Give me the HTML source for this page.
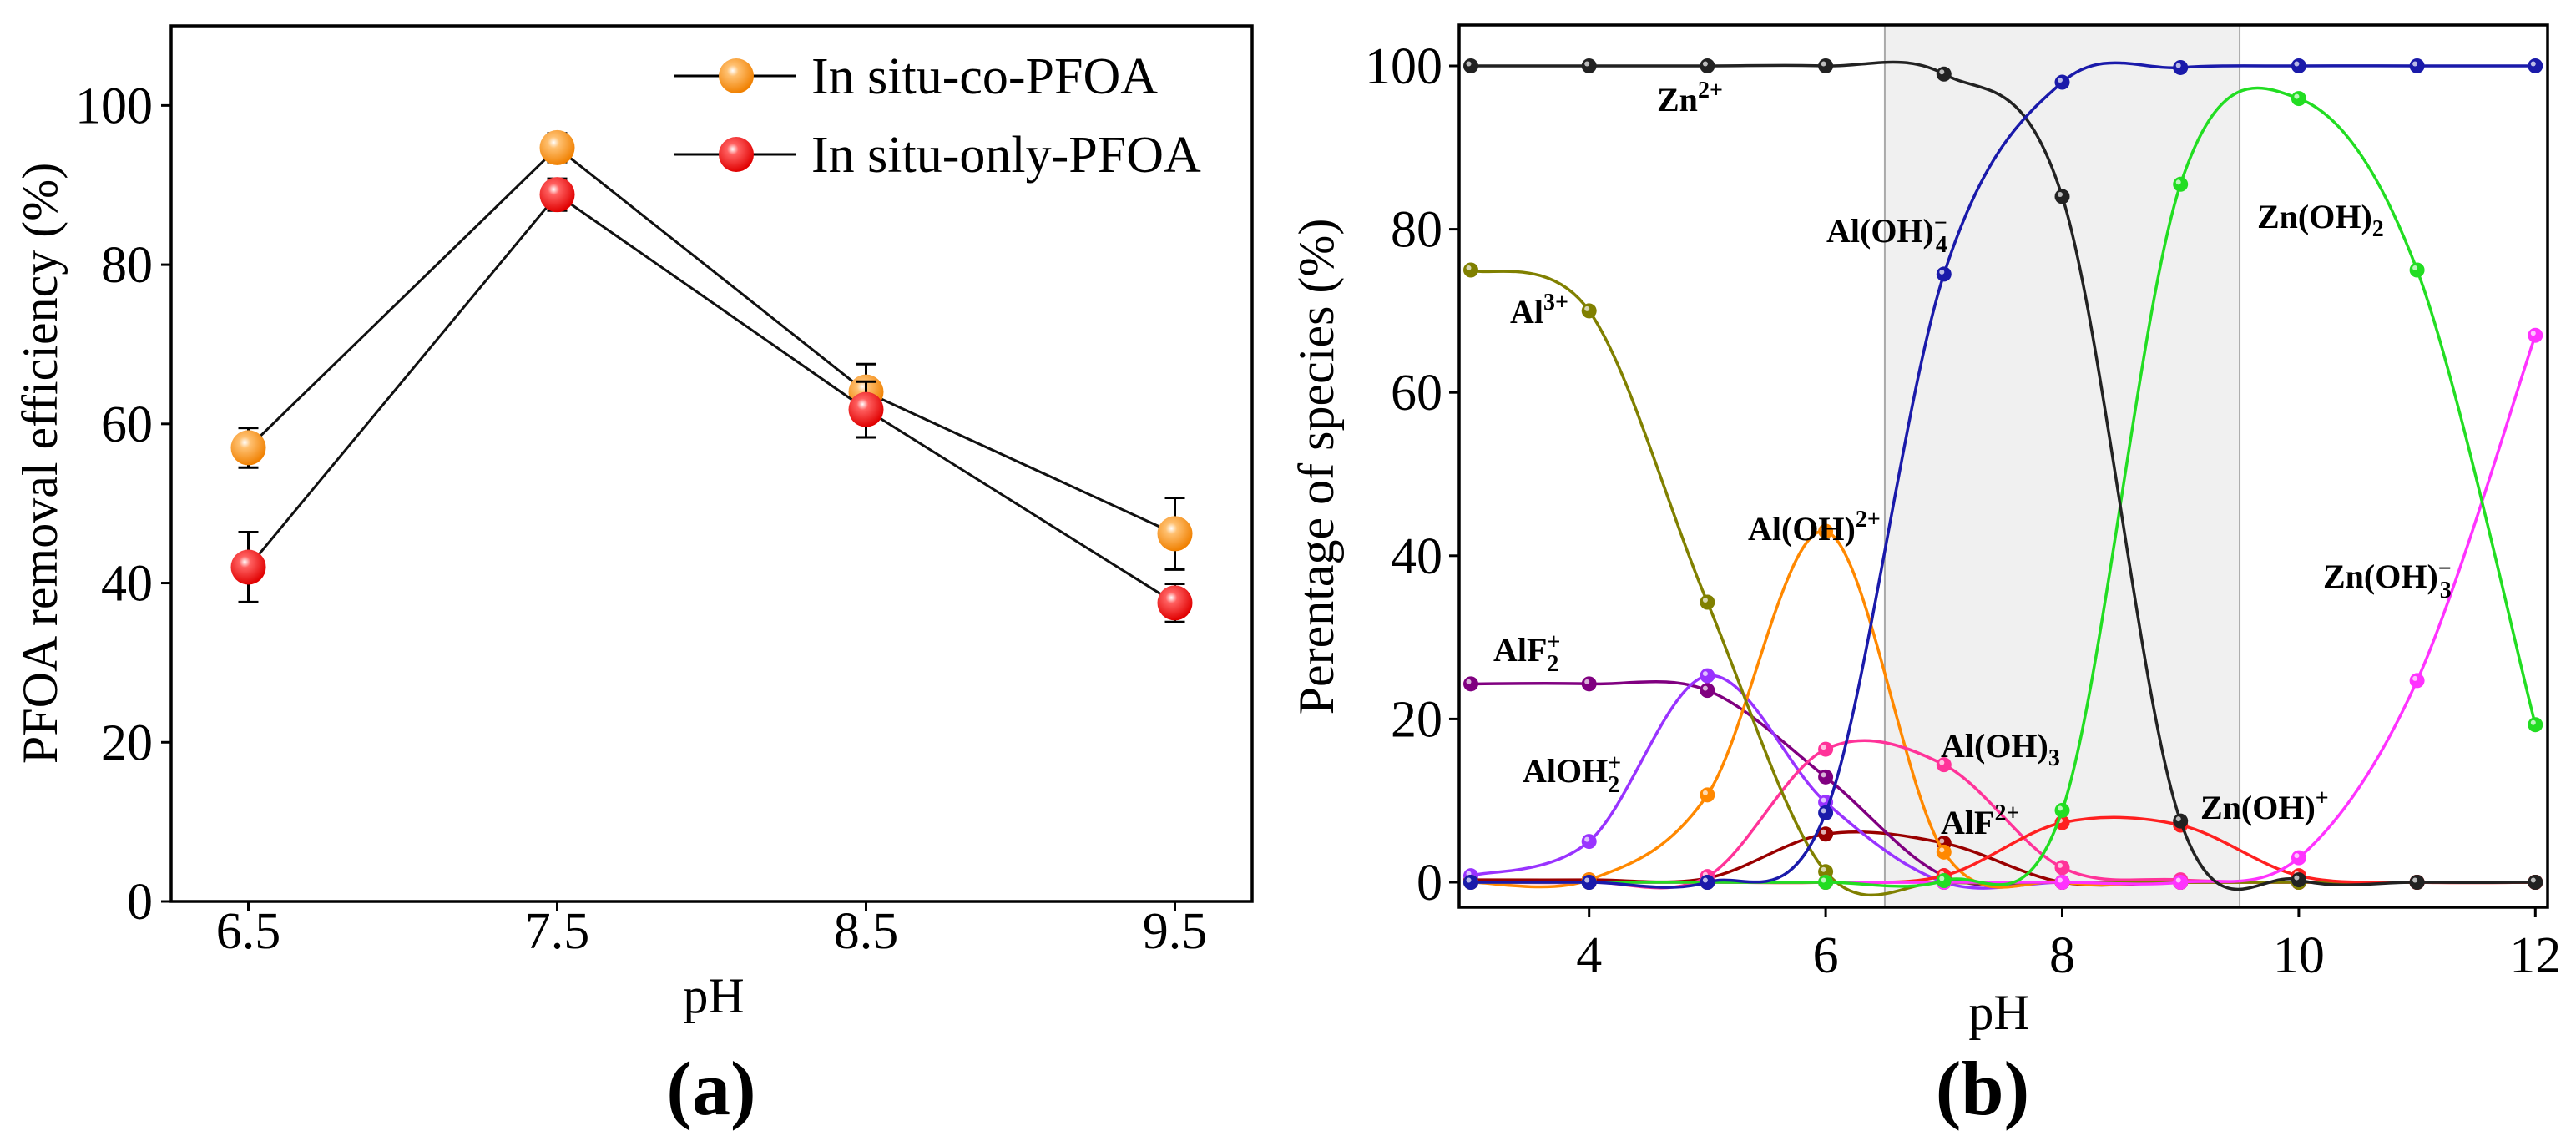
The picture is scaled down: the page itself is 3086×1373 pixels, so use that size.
<!DOCTYPE html>
<html><head><meta charset="utf-8">
<style>
html,body{margin:0;padding:0;background:#fff;}
svg{display:block;font-family:"Liberation Serif",serif;}
</style></head>
<body>
<svg id="fig" width="3086" height="1373" viewBox="0 0 3086 1373" xmlns="http://www.w3.org/2000/svg">
<defs>
<radialGradient id="gO" cx="40%" cy="35%" r="65%"><stop offset="0" stop-color="#fff"/><stop offset="0.25" stop-color="#ffc070"/><stop offset="1" stop-color="#f08000"/></radialGradient>
<radialGradient id="gR" cx="40%" cy="35%" r="65%"><stop offset="0" stop-color="#fff"/><stop offset="0.25" stop-color="#ff6060"/><stop offset="1" stop-color="#e00000"/></radialGradient>
</defs>
<g id="pa"></g>
<g id="pb"></g>
</svg>
<script>
// ---------- Panel A data ----------
const aCategories = [6.5, 7.5, 8.5, 9.5];
const aTickLabels = ["6.5","7.5","8.5","9.5"];
const aYTicks = [0,20,40,60,80,100];
const coValues = [57, 94.7, 64, 46.2];
const coErrors = [2.5, 1.8, 3.5, 4.5];
const onlyValues = [42, 88.8, 61.8, 37.5];
const onlyErrors = [4.4, 2.0, 3.5, 2.4];

// ---------- Panel B data ----------
const bX = [3,4,5,6,7,8,9,10,11,12];
const bXTicks = [4,6,8,10,12];
const bYTicks = [0,20,40,60,80,100];
const znFree = [100,100,100,100,99,84,7.5,0.3,0,0];
const alOH4 = [0,0,0,8.5,74.5,98,99.8,100,100,100];
const znOH2 = [0,0,0,0,0.2,8.8,85.5,96,75,19.3];
const znOH3 = [0,0,0,0,0,0,0,3,24.7,67];
const al3 = [75,70,34.3,1.3,0,0,0,0,0,0];
const alF2 = [24.3,24.3,23.5,12.9,0.8,0,0,0,0,0];
const alOH2 = [0.8,5,25.3,9.8,0,0,0,0,0,0];
const alOHdi = [0,0.3,10.7,43,3.7,0,0,0,0,0];
const alOH3 = [0,0,0.7,16.3,14.4,1.8,0.3,0,0,0];
const alF = [0.3,0.3,0.5,5.9,4.8,0,0,0,0,0];
const znOHp = [0,0,0,0,0.8,7.3,7,0.8,0,0];
const otherZn = [0,0,0,0,0,0,0,0,0,0];

const NS="http://www.w3.org/2000/svg";
function mk(parent,tag,attrs,text){const e=document.createElementNS(NS,tag);for(const k in attrs)e.setAttribute(k,attrs[k]);if(text!==undefined)e.textContent=text;parent.appendChild(e);return e;}

// ===== Panel A =====
const pa=document.getElementById('pa');
const A={l:205,r:1500,t:31,b:1080,x0:6.25,x1:9.75,y0:0,y1:110};
const ax=v=>A.l+(v-A.x0)/(A.x1-A.x0)*(A.r-A.l);
const ay=v=>A.b-(v-A.y0)/(A.y1-A.y0)*(A.b-A.t);
aYTicks.forEach(t=>{
  const tk=mk(pa,'line',{x1:A.l-12,x2:A.l,y1:ay(t),y2:ay(t),stroke:'#000','stroke-width':3});
  
  
  const lb=mk(pa,'text',{x:A.l-22,y:ay(t)+21,'text-anchor':'end','font-size':62},String(t));
  
  
});
aCategories.forEach((c,i)=>{
  const tk=mk(pa,'line',{x1:ax(c),x2:ax(c),y1:A.b,y2:A.b+12,stroke:'#000','stroke-width':3});
  
  
  const lb=mk(pa,'text',{x:ax(c),y:A.b+56,'text-anchor':'middle','font-size':62},aTickLabels[i]);
  
  
});
function aSeries(vals,errs,grad,name){
  const g=mk(pa,'g',{});
  
  
  mk(g,'polyline',{points:aCategories.map((c,i)=>ax(c)+','+ay(vals[i])).join(' '),fill:'none',stroke:'#111','stroke-width':3});
  aCategories.forEach((c,i)=>{
    const x=ax(c),yt=ay(vals[i]+errs[i]),yb=ay(vals[i]-errs[i]);
    mk(g,'line',{x1:x,x2:x,y1:yt,y2:yb,stroke:'#000','stroke-width':3});
    mk(g,'line',{x1:x-12,x2:x+12,y1:yt,y2:yt,stroke:'#000','stroke-width':3});
    mk(g,'line',{x1:x-12,x2:x+12,y1:yb,y2:yb,stroke:'#000','stroke-width':3});
    const p=mk(g,'circle',{cx:x,cy:ay(vals[i]),r:21,fill:grad});
    
    
  });
}
aSeries(coValues,coErrors,'url(#gO)','series-in-situ-co-pfoa');
aSeries(onlyValues,onlyErrors,'url(#gR)','series-in-situ-only-pfoa');
const fa=mk(pa,'rect',{x:A.l,y:A.t,width:A.r-A.l,height:A.b-A.t,fill:'none',stroke:'#000','stroke-width':3.5});


// legend
[['In situ-co-PFOA','url(#gO)',91],['In situ-only-PFOA','url(#gR)',185]].forEach(d=>{
  const g=mk(pa,'g',{});
  
  
  mk(g,'line',{x1:808,x2:953,y1:d[2],y2:d[2],stroke:'#000','stroke-width':3});
  mk(g,'circle',{cx:882,cy:d[2],r:21,fill:d[1]});
  mk(g,'text',{x:972,y:d[2]+21,'font-size':62},d[0]);
});
let t=mk(pa,'text',{x:0,y:0,'font-size':60,'text-anchor':'middle',transform:'translate(68,555) rotate(-90)'},'PFOA removal efficiency (%)');


t=mk(pa,'text',{x:855,y:1213,'font-size':60,'text-anchor':'middle'},'pH');


t=mk(pa,'text',{x:852,y:1335,'font-size':92,'font-weight':'bold','text-anchor':'middle'},'(a)');



// ===== Panel B =====
const pb=document.getElementById('pb');
const B={l:1748,r:3052,t:30,b:1087};
const bx=v=>1762+(v-3)*141.7;
const by=v=>1057-v*9.78;
const sh=mk(pb,'rect',{x:bx(6.5),y:B.t,width:bx(9.5)-bx(6.5),height:B.b-B.t,fill:'#f0f0f0',stroke:'#aaa','stroke-width':2});


bYTicks.forEach(v=>{
  const tk=mk(pb,'line',{x1:B.l-12,x2:B.l,y1:by(v),y2:by(v),stroke:'#000','stroke-width':3});
  
  
  const lb=mk(pb,'text',{x:B.l-20,y:by(v)+21,'text-anchor':'end','font-size':62},String(v));
  
  
});
bXTicks.forEach(v=>{
  const tk=mk(pb,'line',{x1:bx(v),x2:bx(v),y1:B.b,y2:B.b+12,stroke:'#000','stroke-width':3});
  
  
  const lb=mk(pb,'text',{x:bx(v),y:B.b+78,'text-anchor':'middle','font-size':62},String(v));
  
  
});
function spline(pts){
  let d='M'+pts[0][0]+','+pts[0][1];
  for(let i=0;i<pts.length-1;i++){
    const p0=pts[Math.max(0,i-1)],p1=pts[i],p2=pts[i+1],p3=pts[Math.min(pts.length-1,i+2)];
    const c1=[p1[0]+(p2[0]-p0[0])/6,p1[1]+(p2[1]-p0[1])/6];
    const c2=[p2[0]-(p3[0]-p1[0])/6,p2[1]-(p3[1]-p1[1])/6];
    d+=' C'+c1[0]+','+c1[1]+' '+c2[0]+','+c2[1]+' '+p2[0]+','+p2[1];
  }
  return d;
}
function bSeries(vals,color,name){
  const g=mk(pb,'g',{});
  
  
  const pts=bX.map((x,i)=>[bx(x),by(vals[i])]);
  mk(g,'path',{d:spline(pts),fill:'none',stroke:color,'stroke-width':3.5});
  pts.forEach(p=>{
    const c=mk(g,'circle',{cx:p[0],cy:p[1],r:9,fill:color});
    
    
    mk(g,'circle',{cx:p[0]-2.5,cy:p[1]-2.5,r:3,fill:'#fff','fill-opacity':0.7});
  });
}
bSeries(otherZn,'#ff1493','series-zn-other');
bSeries(alF,'#990000','series-alf2plus');
bSeries(alF2,'#800080','series-alf2');
bSeries(alOH2,'#9933ff','series-aloh2');
bSeries(alOHdi,'#ff8800','series-aloh-2plus');
bSeries(alOH3,'#ff3399','series-aloh3');
bSeries(al3,'#808000','series-al3plus');
bSeries(znOHp,'#ff2020','series-znoh-plus');
bSeries(znOH3,'#ff33ff','series-znoh3');
bSeries(znOH2,'#22dd22','series-znoh2');
bSeries(znFree,'#222222','series-zn2plus');
bSeries(alOH4,'#1a1aaa','series-aloh4');
const fb=mk(pb,'rect',{x:B.l,y:B.t,width:B.r-B.l,height:B.b-B.t,fill:'none',stroke:'#000','stroke-width':3.5});


// species labels
const labs=[
 ['Zn','<tspan dy="-16" font-size="28">2+</tspan>',1985,133,'label-zn2plus'],
 ['Al(OH)','<tspan dy="-14" font-size="28">−</tspan><tspan dx="-14" dy="26" font-size="28">4</tspan>',2188,290,'label-aloh4'],
 ['Zn(OH)','<tspan dy="10" font-size="28">2</tspan>',2704,273,'label-znoh2'],
 ['Al','<tspan dy="-16" font-size="28">3+</tspan>',1809,387,'label-al3plus'],
 ['Al(OH)','<tspan dy="-16" font-size="28">2+</tspan>',2094,647,'label-aloh-2plus'],
 ['AlF','<tspan dy="-14" font-size="28">+</tspan><tspan dx="-16" dy="26" font-size="28">2</tspan>',1789,792,'label-alf2'],
 ['AlOH','<tspan dy="-14" font-size="28">+</tspan><tspan dx="-16" dy="26" font-size="28">2</tspan>',1824,937,'label-aloh2'],
 ['Al(OH)','<tspan dy="10" font-size="28">3</tspan>',2325,907,'label-aloh3'],
 ['AlF','<tspan dy="-16" font-size="28">2+</tspan>',2325,999,'label-alf2plus'],
 ['Zn(OH)','<tspan dy="-16" font-size="28">+</tspan>',2636,981,'label-znoh-plus'],
 ['Zn(OH)','<tspan dy="-14" font-size="28">−</tspan><tspan dx="-14" dy="26" font-size="28">3</tspan>',2783,704,'label-znoh3']
];
labs.forEach(l=>{
  const e=mk(pb,'text',{x:l[2],y:l[3],'font-size':40,'font-weight':'bold'});
  e.innerHTML=l[0]+l[1];
  
  
});
t=mk(pb,'text',{x:0,y:0,'font-size':60,'text-anchor':'middle',transform:'translate(1597,559) rotate(-90)'},'Perentage of species (%)');


t=mk(pb,'text',{x:2395,y:1233,'font-size':60,'text-anchor':'middle'},'pH');


t=mk(pb,'text',{x:2375,y:1335,'font-size':92,'font-weight':'bold','text-anchor':'middle'},'(b)');


</script>
</body></html>
